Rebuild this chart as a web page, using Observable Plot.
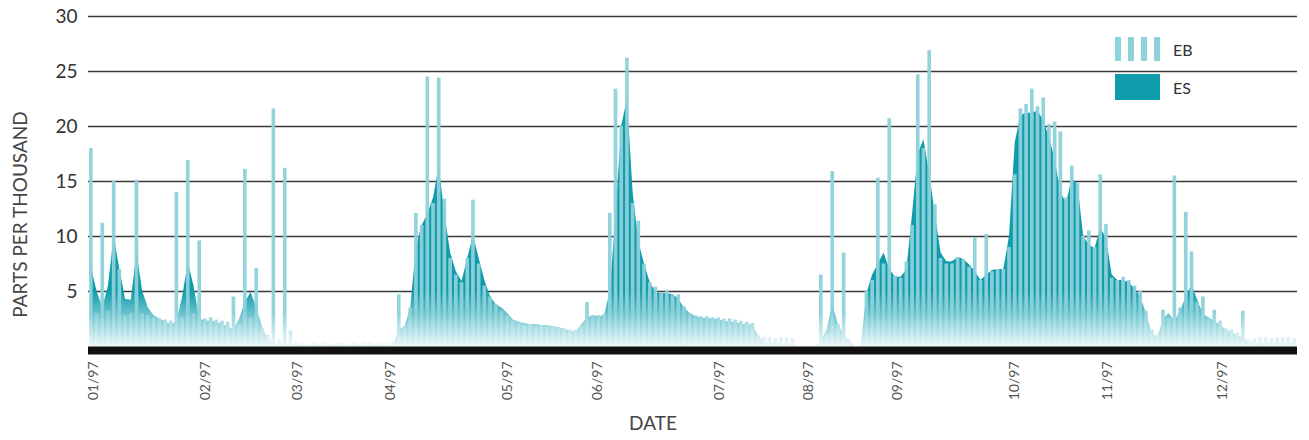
<!DOCTYPE html>
<html>
<head>
<meta charset="utf-8">
<script src="https://cdn.jsdelivr.net/npm/d3@7"></script>
<script src="https://cdn.jsdelivr.net/npm/@observablehq/plot@0.6"></script>
<style>
  html, body { margin: 0; padding: 0; background: #fff; }
  #wrap { position: relative; width: 1309px; height: 440px; font-family: Lato, "Open Sans", sans-serif; }
  #wrap svg.plot { position: absolute; left: 0; top: 0; }
  .legend { position: absolute; left: 1115px; top: 36px; font-size: 16px; color: #333; }
  .legend .row { display: flex; align-items: center; height: 26px; margin-bottom: 12px; }
  .legend .sw { width: 45px; height: 24px; margin-right: 13px; }
  .legend .eb { display: flex; justify-content: space-between; }
  .legend .eb span { display: block; width: 6px; height: 24px; background: #8fd2da; }
  .legend .es { background: #109cab; height: 26px; }
</style>
</head>
<body>
<div id="wrap"></div>
<script>
// Sample series (one value per sample position)
const ebValues = [
  18, 3.0, 11.2, 3.2, 15.0, 7.0, 2.8, 3.0, 15.1, 3.0,
  2.8, 2.6, 2.5, 2.4, 2.3, 14.0, 2.6, 16.9, 3.0, 9.6,
  2.5, 2.6, 2.4, 2.3, 2.2, 4.5, 2.0, 16.1, 2.6, 7.1,
  1.6, 1.0, 21.6, 0.6, 16.2, 1.4, 0.4, 0.3, 0.2, 0.3,
  0.2, 0.3, 0.2, 0.3, 0.3, 0.2, 0.3, 0.2, 0.3, 0.3,
  0.2, 0.3, 0.3, 0.4, 4.7, 1.8, 3.5, 12.1, 11.0, 24.5,
  13.0, 24.4, 13.4, 8.0, 6.5, 5.8, 8.0, 13.3, 7.5, 5.5,
  4.5, 3.8, 3.2, 2.8, 2.3, 2.0, 1.9, 2.0, 1.8, 1.9,
  1.8, 1.8, 1.7, 1.6, 1.5, 1.5, 1.8, 4.0, 2.8, 2.8,
  2.9, 12.1, 23.4, 20.0, 26.2, 13.0, 11.4, 7.5, 5.8, 5.4,
  4.8, 5.1, 4.7, 4.7, 3.6, 3.0, 2.8, 2.7, 2.7, 2.6,
  2.6, 2.5, 2.5, 2.4, 2.3, 2.2, 2.1, 1.0, 0.8, 0.8,
  0.7, 0.8, 0.8, 0.7, 0, 0, 0, 0, 6.5, 1.0,
  15.9, 2.0, 8.5, 0.6, 0, 0, 5.0, 6.0, 15.3, 7.5,
  20.7, 6.4, 6.2, 7.7, 11.0, 24.7, 18.0, 26.9, 12.9, 8.0,
  7.5, 7.5, 8.1, 7.9, 7.2, 9.9, 6.0, 10.2, 6.8, 7.0,
  7.0, 9.0, 15.6, 21.6, 22.0, 23.4, 21.8, 22.6, 20.2, 20.4,
  19.5, 13.5, 16.4, 14.9, 10.0, 10.5, 9.0, 15.6, 11.1, 6.2,
  6.0, 6.3, 6.0, 5.5, 5.0, 3.2, 1.5, 1.0, 3.3, 2.5,
  15.5, 3.5, 12.2, 8.6, 4.0, 4.5, 2.5, 3.3, 2.3, 1.6,
  1.5, 1.2, 3.2, 0.6, 0.7, 0.8, 0.8, 0.7, 0.8, 0.8,
  0.8, 0.7
];
const esValues = [
  7.2, 5.0, 3.5, 5.5, 10.0, 7.0, 4.3, 4.2, 8.5, 5.0,
  3.5, 2.8, 2.5, 2.2, 2.0, 2.2, 4.5, 7.6, 5.5, 2.5,
  2.3, 2.3, 2.2, 2.0, 1.8, 1.5, 2.5, 4.0, 4.9, 3.5,
  1.8, 0.6, 0.3, 0.2, 0.2, 0.2, 0.1, 0.1, 0.1, 0.1,
  0.1, 0.1, 0.1, 0.1, 0.1, 0.1, 0.1, 0.1, 0.1, 0.1,
  0.1, 0.1, 0.1, 0.1, 1.5, 1.8, 3.5, 9.0, 11.0, 12.0,
  13.5, 16.3, 12.0, 8.5, 6.8, 5.9, 8.0, 10.1, 8.0, 6.0,
  4.5, 3.8, 3.5, 3.0, 2.4, 2.2, 2.1, 2.0, 2.0, 1.9,
  1.9, 1.8, 1.7, 1.6, 1.4, 1.3, 2.0, 2.6, 2.8, 2.7,
  2.8, 5.0, 12.0, 20.0, 22.5, 14.0, 9.5, 7.5, 5.8, 4.9,
  4.8, 4.8, 4.7, 4.3, 3.5, 3.0, 2.7, 2.6, 2.5, 2.5,
  2.4, 2.3, 2.2, 2.2, 2.0, 2.0, 1.9, 1.0, 0.3, 0.3,
  0.3, 0.3, 0.2, 0.2, 0, 0, 0, 0, 0.5, 1.5,
  3.8, 2.0, 1.0, 0.5, 0, 0, 4.8, 6.5, 7.5, 8.5,
  7.0, 6.3, 6.3, 7.0, 12.0, 17.5, 18.8, 15.7, 12.0, 8.5,
  7.7, 7.7, 8.1, 7.9, 7.4, 6.8, 6.0, 6.5, 6.9, 7.0,
  7.0, 10.0, 18.5, 21.0, 21.2, 21.2, 21.4, 20.5, 19.0, 17.0,
  14.0, 13.0, 15.3, 14.7, 10.0, 9.2, 8.9, 10.8, 9.8, 6.5,
  6.0, 6.0, 5.8, 5.2, 4.5, 3.0, 1.2, 0.8, 2.5, 3.0,
  2.3, 3.2, 4.5, 5.6, 4.2, 2.9, 2.6, 2.3, 1.9, 1.5,
  1.2, 1.0, 0.8, 0.4, 0.3, 0.3, 0.3, 0.3, 0.3, 0.3,
  0.3, 0.3
];
// Month tick positions (in sample units) and labels
const monthTickPos = [0.4, 20.0, 36.2, 52.5, 73.0, 88.8, 110.1, 125.8, 141.4, 161.8, 178.1, 198.4];
const monthLabels = ["01/97", "02/97", "03/97", "04/97", "05/97", "06/97", "07/97", "08/97", "09/97", "10/97", "11/97", "12/97"];
const yTicks = [5, 10, 15, 20, 25, 30];
const seriesNames = ["EB", "ES"];
const axisTitles = { x: "DATE", y: "PARTS PER THOUSAND" };

const data = ebValues.map((v, i) => ({ i, eb: v, es: esValues[i] }));

function gradientDefs(index, scales) {
  const y = scales.y;
  const defs = d3.create("svg:defs");
  const g1 = defs.append("linearGradient").attr("id", "gES")
    .attr("gradientUnits", "userSpaceOnUse")
    .attr("x1", 0).attr("x2", 0).attr("y1", y(0)).attr("y2", y(5));
  g1.append("stop").attr("offset", 0).attr("stop-color", "#e8f6f8");
  g1.append("stop").attr("offset", 0.45).attr("stop-color", "#86cfd8");
  g1.append("stop").attr("offset", 1).attr("stop-color", "#109cab");
  const g2 = defs.append("linearGradient").attr("id", "gEB")
    .attr("gradientUnits", "userSpaceOnUse")
    .attr("x1", 0).attr("x2", 0).attr("y1", y(0)).attr("y2", y(3));
  g2.append("stop").attr("offset", 0).attr("stop-color", "#eef8fa");
  g2.append("stop").attr("offset", 1).attr("stop-color", "#8dd1da");
  return defs.node();
}

const chart = Plot.plot({
  width: 1309,
  height: 440,
  marginTop: 16,
  marginBottom: 94,
  marginLeft: 88,
  marginRight: 12,
  style: { fontFamily: "Lato, 'Open Sans', sans-serif", background: "#fff" },
  x: { type: "linear", domain: [-0.5, ebValues.length - 0.5] },
  y: { domain: [0, 30] },
  marks: [
    gradientDefs,
    Plot.ruleY(yTicks, { stroke: "#3a3a3a", strokeWidth: 1.4 }),
    Plot.areaY(data, { x: "i", y: "es", fill: "url(#gES)" }),
    Plot.rect(data, { x1: d => d.i - 0.32, x2: d => d.i + 0.32, y1: 0, y2: "eb", fill: "url(#gEB)", fillOpacity: 0.95 }),
    Plot.ruleY([0], { stroke: "#111", strokeWidth: 8, dy: 4 }),
    Plot.axisY(yTicks, { tickSize: 0, tickPadding: 11, fontSize: 19, color: "#333", label: null }),
    Plot.axisX(monthTickPos, {
      tickSize: 0, tickPadding: 15, tickRotate: -90, fontSize: 14, color: "#555", label: null,
      tickFormat: d => monthLabels[monthTickPos.indexOf(d)]
    }),
    Plot.text([axisTitles.x], { frameAnchor: "bottom", textAnchor: "middle", lineAnchor: "middle", dx: -40, dy: 77, fontSize: 19, fill: "#444" }),
    Plot.text([axisTitles.y], { frameAnchor: "left", textAnchor: "middle", lineAnchor: "middle", rotate: -90, dx: -68, dy: 33, fontSize: 19, fill: "#444" })
  ]
});
chart.classList.add("plot");
const wrap = document.getElementById("wrap");
wrap.appendChild(chart);

const legend = document.createElement("div");
legend.className = "legend";
legend.innerHTML =
  `<div class="row"><div class="sw eb"><span></span><span></span><span></span><span></span></div><div>${seriesNames[0]}</div></div>` +
  `<div class="row"><div class="sw es"></div><div>${seriesNames[1]}</div></div>`;
wrap.appendChild(legend);
</script>
</body>
</html>
